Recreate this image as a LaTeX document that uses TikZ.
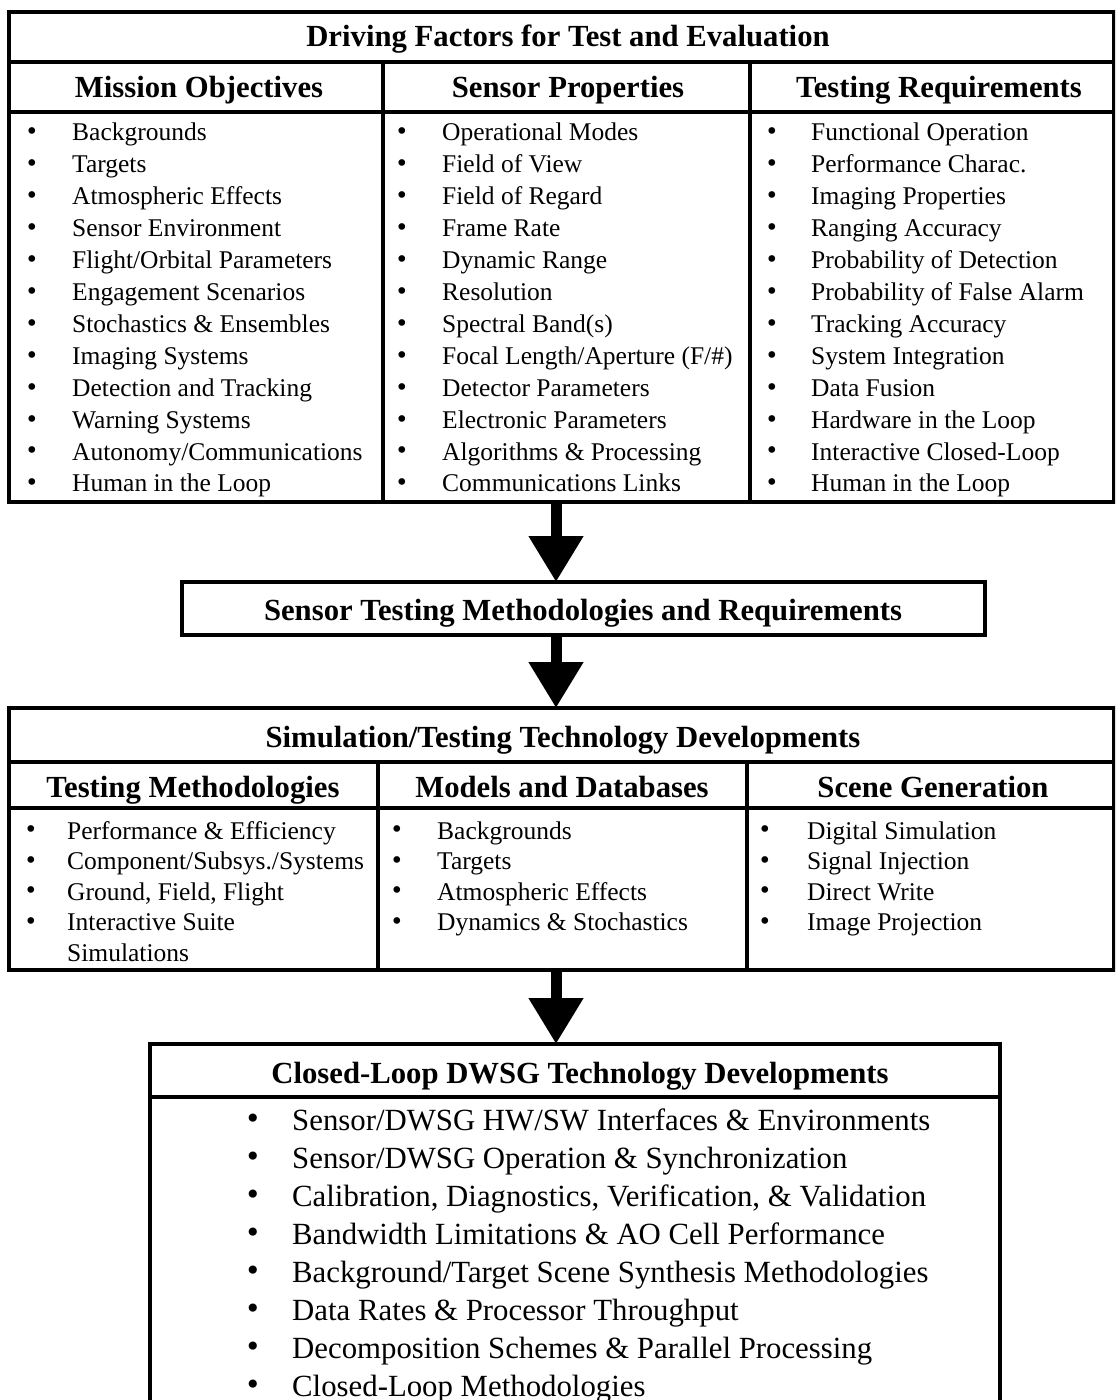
\documentclass[tikz,border=0pt]{standalone}
\usepackage{fontspec}
\setmainfont{Liberation Serif}
\newfontfamily\bulfont{DejaVu Sans}
\usetikzlibrary{arrows.meta}
\begin{document}
\begin{tikzpicture}[x=1bp,y=-1bp,
  boxline/.style={line width=3.2bp},
  frame/.style={draw,boxline,rectangle,inner sep=0pt,outer sep=0pt,anchor=north west},
  ttl/.style={font=\fontsize{30.7bp}{34bp}\selectfont\bfseries,inner sep=0pt,anchor=base},
  itm/.style={font=\fontsize{25.5bp}{30bp}\selectfont,inner sep=0pt,anchor=base west},
  bul/.style={font=\bulfont\fontsize{23bp}{25bp}\selectfont,inner sep=0pt,anchor=center},
  bigitm/.style={font=\fontsize{30.8bp}{36bp}\selectfont,inner sep=0pt,anchor=base west},
  bigbul/.style={font=\bulfont\fontsize{28bp}{30bp}\selectfont,inner sep=0pt,anchor=center},
  bigarrow/.style={line width=11bp,-{Triangle[length=46bp,width=52bp]}}]
\useasboundingbox (0,0) rectangle (1115,1400);
\clip (0,0) rectangle (1115,1400);

% ---------- Box 1 ----------
\node[frame,minimum width=1105bp,minimum height=490bp] (B1) at (9,12) {};
\draw[boxline] (9,62) -- (1114,62);
\draw[boxline] (9,112) -- (1114,112);
\draw[boxline] (383,62) -- (383,502);
\draw[boxline] (750,62) -- (750,502);
\node[ttl] (t1) at (568,47) {Driving Factors for Test and Evaluation};
\node[ttl] (h11) at (199,98) {Mission Objectives};
\node[ttl] (h12) at (568,98) {Sensor Properties};
\node[ttl] (h13) at (939,98) {Testing Requirements};
\foreach \t [count=\i] in {Backgrounds,Targets,Atmospheric Effects,Sensor Environment,
  Flight/Orbital Parameters,Engagement Scenarios,Stochastics \& Ensembles,Imaging Systems,
  Detection and Tracking,Warning Systems,Autonomy/Communications,Human in the Loop}{
  \node[bul] (ab\i) at (32,{134+31.9*(\i-1)}) {\textbullet};
  \node[itm] (at\i) at (72,{141+31.9*(\i-1)}) {\t};
}
\foreach \t [count=\i] in {Operational Modes,Field of View,Field of Regard,Frame Rate,
  Dynamic Range,Resolution,Spectral Band(s),Focal Length/Aperture (F/\#),
  Detector Parameters,Electronic Parameters,Algorithms \& Processing,Communications Links}{
  \node[bul] (bb\i) at (402,{134+31.9*(\i-1)}) {\textbullet};
  \node[itm] (bt\i) at (442,{141+31.9*(\i-1)}) {\t};
}
\foreach \t [count=\i] in {Functional Operation,Performance Charac.,Imaging Properties,
  Ranging Accuracy,Probability of Detection,Probability of False Alarm,Tracking Accuracy,
  System Integration,Data Fusion,Hardware in the Loop,Interactive Closed-Loop,Human in the Loop}{
  \node[bul] (cb\i) at (772,{134+31.9*(\i-1)}) {\textbullet};
  \node[itm] (ct\i) at (811,{141+31.9*(\i-1)}) {\t};
}

% ---------- Box 2 ----------
\node[frame,minimum width=803bp,minimum height=53bp] (B2) at (182,582) {};
\node[ttl] (t2) at (583,620) {Sensor Testing Methodologies and Requirements};

% ---------- Box 3 ----------
\node[frame,minimum width=1105bp,minimum height=262bp] (B3) at (9,708) {};
\draw[boxline] (9,762) -- (1114,762);
\draw[boxline] (9,808) -- (1114,808);
\draw[boxline] (378,762) -- (378,970);
\draw[boxline] (747,762) -- (747,970);
\node[ttl] (t3) at (563,747) {Simulation/Testing Technology Developments};
\node[ttl] (h31) at (193,797) {Testing Methodologies};
\node[ttl] (h32) at (562,797) {Models and Databases};
\node[ttl] (h33) at (933,797) {Scene Generation};
\foreach \t [count=\i] in {Performance \& Efficiency,Component/Subsys./Systems,
  {Ground, Field, Flight},Interactive Suite}{
  \node[bul] (db\i) at (31,{832+30.5*(\i-1)}) {\textbullet};
  \node[itm] (dt\i) at (67,{839+30.5*(\i-1)}) {\t};
}
\node[itm] (dt5) at (67,961) {Simulations};
\foreach \t [count=\i] in {Backgrounds,Targets,Atmospheric Effects,Dynamics \& Stochastics}{
  \node[bul] (eb\i) at (397,{832+30.5*(\i-1)}) {\textbullet};
  \node[itm] (et\i) at (437,{839+30.5*(\i-1)}) {\t};
}
\foreach \t [count=\i] in {Digital Simulation,Signal Injection,Direct Write,Image Projection}{
  \node[bul] (fb\i) at (765,{832+30.5*(\i-1)}) {\textbullet};
  \node[itm] (ft\i) at (807,{839+30.5*(\i-1)}) {\t};
}

% ---------- Box 4 ----------
\node[frame,minimum width=850bp,minimum height=380bp] (B4) at (150,1044) {};
\draw[boxline] (150,1097) -- (1000,1097);
\node[ttl] (t4) at (580,1083) {Closed-Loop DWSG Technology Developments};
\foreach \t [count=\i] in {Sensor/DWSG HW/SW Interfaces \& Environments,
  Sensor/DWSG Operation \& Synchronization,
  {Calibration, Diagnostics, Verification, \& Validation},
  Bandwidth Limitations \& AO Cell Performance,
  Background/Target Scene Synthesis Methodologies,
  Data Rates \& Processor Throughput,
  Decomposition Schemes \& Parallel Processing,
  Closed-Loop Methodologies}{
  \node[bigbul] (gb\i) at (253,{1121+38*(\i-1)}) {\textbullet};
  \node[bigitm] (gt\i) at (292,{1130+38*(\i-1)}) {\t};
}

% ---------- Arrows ----------
\coordinate (ax) at (556,0);
\draw[bigarrow] (B1.south -| ax) -- (B2.north -| ax);
\draw[bigarrow] (B2.south -| ax) -- (B3.north -| ax);
\draw[bigarrow] (B3.south -| ax) -- (B4.north -| ax);
\end{tikzpicture}
\end{document}
